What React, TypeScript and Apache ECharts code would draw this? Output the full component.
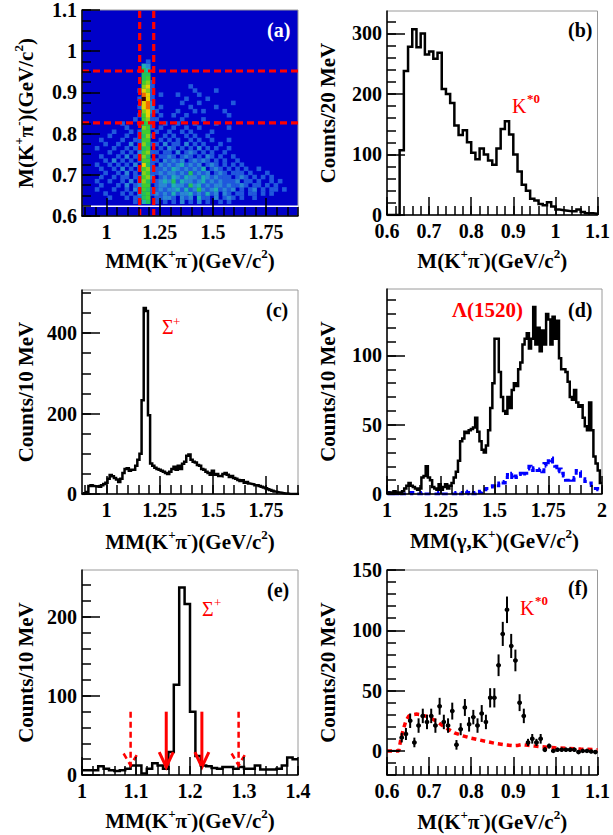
import React, { useEffect, useRef } from "react";
import * as echarts from "echarts";

const FONT = '"Liberation Serif","Times New Roman",Times,serif';

// ---------------- (a) 2D histogram M(K+pi-) vs MM(K+pi-) ----------------
const aCellX0 = 0.885;
const aCellW = 0.02;
const aCellY0 = 0.63;
const aCellH = 0.01;
// one string per row, bottom (0.63) to top; one digit per 0.02 column from 0.885
const aRows = [
  "0000000000 0010340101 0102010201 0010100000 0000000000 0",
  "0000001000 1011450112 2102120311 0201210100 1000000000 0",
  "0000010001 0102451212 1312231213 1202101101 1010100000 0",
  "0001000100 1021541121 2231312421 2312120101 2010110100 0",
  "0000100010 2012550122 1322142312 1221211210 1101010000 0",
  "0001001001 0202641123 2413221231 2121112011 0100101000 0",
  "0000100101 1011562012 1321322132 1211101210 1010100000 0",
  "0000010010 2010651121 2212141212 0121011101 0001000000 0",
  "0000100102 0102561112 1321212130 1210101010 0100000000 0",
  "0001001010 1020741021 2123121201 2101010100 0000000000 0",
  "0000010201 0101551102 1212012121 0101001000 0000000000 0",
  "0000100010 2011640011 2101210102 1010010000 0000000000 0",
  "0000001001 0102561101 1020121010 1001000000 0000000000 0",
  "0001000100 1011450010 2101010201 0100100000 0000000000 0",
  "0000010010 0201641102 0110201010 0010000000 0000000000 0",
  "0000100001 0011550010 1010010100 1000100000 0000000000 0",
  "0000001000 1001461001 0100101001 0000000000 0000000000 0",
  "0000000100 0101550100 1001010000 1000000000 0000000000 0",
  "0000000000 1000651010 0100100100 0000100000 0000000000 0",
  "0000000001 0001451001 0010001000 0100000000 0000000000 0",
  "0000000000 0010561100 0001000010 0000000000 0000000000 0",
  "0000000000 0001571010 0100100000 0000100000 0000000000 0",
  "0000000000 0000672100 0010001010 0001000000 0000000000 0",
  "0000000000 0001782010 0000010000 0100000000 0000000000 0",
  "0000000000 0000782000 0001000100 0000010000 0000000000 0",
  "0000000000 0001971000 0000100001 0000000000 0000000000 0",
  "0000000000 0000871010 0010000100 0000000000 0000000000 0",
  "0000000000 0001761000 0000001000 0100000000 0000000000 0",
  "0000000000 0000671000 0000010000 0000000000 0000000000 0",
  "0000000000 0000561000 0000000000 0000000000 0000000000 0",
  "0000000000 0000450000 0000000000 0000000000 0000000000 0",
  "0000000000 0000440000 0000000000 0000000000 0000000000 0",
  "0000000000 0000430000 0000000000 0000000000 0000000000 0",
  "0000000000 0000320000 0000000000 0000000000 0000000000 0",
  "0000000000 0000010000 0000000000 0000000000 0000000000 0",
];
const aColors = ["", "#2058dc", "#2a86d4", "#1eb0b4", "#22c25a", "#40cc30", "#88d018", "#e8d000", "#f06a00", "#3c0000"];
const aSigmaCut = [1.156, 1.222];
const aKstarCut = [0.826, 0.952];
const aEdgeLine = 0.6235;

// ---------------- (b) M(K+pi-) ----------------
const bStart = 0.6;
const bWidth = 0.01;
const bCounts = [
  0, 0, 0, 107, 238, 278, 307, 277, 300, 265,
  270, 258, 268, 208, 200, 185, 148, 132, 140, 120,
  103, 92, 110, 100, 90, 83, 110, 142, 155, 133,
  100, 72, 50, 40, 27, 24, 18, 16, 21, 14,
  9, 8, 7, 6, 6, 9, 5, 3, 3, 2,
];

// ---------------- (c) MM(K+pi-) ----------------
const cStart = 0.885;
const cWidth = 0.01;
const cCounts = [
  0, 2, 5, 20, 22, 20, 19, 20, 18, 22,
  25, 28, 38, 47, 44, 40, 36, 30, 38, 52,
  62, 64, 58, 60, 60, 70, 85, 100,
  233, 462, 455, 196, 76, 70,
  65, 62, 60, 58, 55, 52, 50, 55, 62, 68,
  60, 70, 62, 75, 80, 95, 98, 85, 80, 78,
  72, 70, 62, 60, 55, 52, 48, 58, 48, 50,
  45, 44, 50, 52, 48, 42, 45, 40, 38, 35,
  32, 34, 28, 30, 26, 25, 24, 22, 22, 20,
  18, 16, 14, 12, 10, 8, 6, 5, 4, 3,
  2, 1, 1, 0, 0, 0, 0, 0,
];

// ---------------- (d) MM(gamma,K+) ----------------
const dStart = 1.0;
const dWidth = 0.01;
const dCounts = [
  0, 1, 0, 2, 1, 1, 0, 2, 4, 6,
  8, 6, 5, 4, 3, 4, 12, 13, 20, 12,
  10, 5, 4, 3, 7, 3, 5, 7, 4, 6,
  8, 12, 16, 24, 38, 40, 45, 44, 46, 47,
  48, 55, 45, 38, 32, 30, 35, 46, 62, 80,
  112, 112, 88, 70, 60, 58, 70, 62, 75, 80,
  78, 90, 95, 108, 112, 116, 105, 112, 135, 108,
  120, 103, 118, 108, 130, 126, 108, 128, 112, 125,
  98, 90, 90, 88, 81, 70, 68, 75, 66, 63,
  64, 55, 49, 46, 66, 46, 27, 22, 17, 8,
];
const dSideband = [
  1, 0, 1, 0, 0, 1, 0, 0, 0, 0,
  0, 1, 0, 0, 0, 0, 1, 0, 0, 0,
  0, 0, 0, 0, 1, 0, 0, 0, 0, 0,
  0, 0, 1, 0, 0, 1, 2, 1, 0, 1,
  0, 1, 2, 1, 2, 3, 4, 4, 5, 6,
  5, 6, 8, 9, 8, 12, 14, 12, 15, 13,
  12, 14, 15, 13, 15, 18, 20, 17, 19, 17,
  17, 18, 16, 22, 20, 24, 26, 22, 20, 16,
  18, 15, 13, 10, 10, 11, 10, 12, 17, 16,
  11, 11, 9, 9, 8, 5, 4, 4, 3, 4,
];

// ---------------- (e) MM(K+pi-) after K* cut ----------------
const eStart = 1.0;
const eWidth = 0.01;
const eCounts = [
  6, 6, 6, 11, 8, 6, 5, 6, 8, 12,
  12, 2, 8, 15, 12, 8, 29, 114, 237, 216,
  80, 24, 12, 11, 9, 8, 10, 10, 8, 10,
  8, 8, 12, 7, 7, 7, 8, 12, 22, 20,
];
// [x, top count, tip count, dashed]
const eArrows = [
  [1.09, 80, 12, 1],
  [1.156, 80, 10, 0],
  [1.222, 80, 10, 0],
  [1.29, 80, 12, 1],
];

// ---------------- (f) M(K+pi-) sideband subtracted ----------------
const fStart = 0.6;
const fWidth = 0.01;
const fCounts = [
  0, 0, 0, 11, 14, 25, 7, 21, 29, 24,
  29, 21, 37, 24, 21, 33, 5, 18, 36, 22,
  28, 21, 31, 24, 44, 44, 71, 97, 117, 87,
  75, 40, 29, 7, 10, 7, 10, 1, 4, 0,
  1, 1, 1, 1, 1, -1, 0, 0, -0.5, -1,
];
const fErrors = [
  0, 0, 0, 4, 5, 6, 4, 6, 6, 6,
  6, 6, 7, 6, 6, 7, 4, 5, 7, 6,
  6, 6, 7, 6, 8, 8, 9, 10, 11, 10,
  9, 7, 6, 3, 4, 3, 4, 2, 2, 1,
  1, 1, 1, 1, 1, 1, 1, 1, 1, 1,
];
const fBkgX = [0.6, 0.628, 0.632, 0.638, 0.645, 0.652, 0.66, 0.67, 0.68, 0.69, 0.7, 0.71, 0.72, 0.73, 0.74, 0.75, 0.76, 0.78, 0.8, 0.82, 0.84, 0.86, 0.88, 0.9, 0.91, 0.92, 0.93, 0.95, 0.98, 1.0, 1.03, 1.06, 1.1];
const fBkgY = [0, 0, 8, 17, 25, 29, 30, 30.5, 30, 29, 28, 26, 24, 21.5, 19, 17, 15, 12.5, 10.5, 9, 7.5, 6, 5, 4.3, 4.5, 5.2, 4.8, 4, 3, 2.5, 2, 1.5, 1];

// ---------------- helpers ----------------
const RICH = {
  n: { fontFamily: FONT, fontWeight: "bold", fontSize: 21, color: "#000", lineHeight: 24, verticalAlign: "bottom" },
  s: { fontFamily: FONT, fontWeight: "bold", fontSize: 13, color: "#000", lineHeight: 12, verticalAlign: "top" },
};
const T_MM = "{n|MM(K}{s|+}{n|π}{s|-}{n|)(GeV/c}{s|2}{n|)}";
const T_M = "{n|M(K}{s|+}{n|π}{s|-}{n|)(GeV/c}{s|2}{n|)}";
const T_MMG = "{n|MM(γ,K}{s|+}{n|)(GeV/c}{s|2}{n|)}";
const T_C20 = "{n|Counts/20 MeV}";
const T_C10 = "{n|Counts/10 MeV}";

function tickValues(min: number, max: number, step: number) {
  const out: number[] = [];
  const k0 = Math.ceil(min / step - 1e-6);
  const k1 = Math.floor(max / step + 1e-6);
  for (let k = k0; k <= k1; k++) out.push(Math.round(k * step * 1e6) / 1e6);
  return out;
}
const fmt = (v: number) => String(parseFloat(Number(v).toFixed(4)));

function axisPair(dim: "x" | "y", gi: number, min: number, max: number, step: number, minorStep: number, name: string, gap: number) {
  const major = tickValues(min, max, step);
  const minor = tickValues(min, max, minorStep);
  const common: any = {
    type: "value",
    gridIndex: gi,
    min,
    max,
    z: 10,
    position: dim === "x" ? "bottom" : "left",
    splitLine: { show: false },
  };
  return [
    {
      ...common,
      axisLine: { show: true, onZero: false, lineStyle: { color: "#000", width: 1.5 } },
      axisTick: { show: true, inside: true, length: 18, lineStyle: { color: "#000", width: 1.5 }, customValues: major },
      axisLabel: {
        show: true,
        customValues: major,
        formatter: fmt,
        margin: dim === "x" ? 8 : 5,
        fontFamily: FONT,
        fontWeight: "bold",
        fontSize: 20,
        lineHeight: 16,
        color: "#000",
      },
      name,
      nameLocation: "middle",
      nameGap: gap,
      nameRotate: dim === "y" ? 90 : 0,
      nameTextStyle: { rich: RICH, fontFamily: FONT, fontWeight: "bold", fontSize: 21, color: "#000" },
    },
    {
      ...common,
      axisLine: { show: false, onZero: false },
      axisTick: { show: true, inside: true, length: 9, lineStyle: { color: "#000", width: 1.5 }, customValues: minor },
      axisLabel: { show: false },
    },
  ];
}

function stepData(start: number, width: number, vals: number[]) {
  const d = vals.map((v, i) => [Math.round((start + i * width) * 1e6) / 1e6, v]);
  d.push([Math.round((start + vals.length * width) * 1e6) / 1e6, vals[vals.length - 1]]);
  return d;
}

function histSeries(gi: number, data: number[][], color: string, width: number, dash?: number[]) {
  return {
    type: "line",
    xAxisIndex: gi * 2,
    yAxisIndex: gi * 2,
    step: "end",
    symbol: "none",
    data,
    clip: true,
    z: 3,
    lineStyle: { color, width, type: dash ? dash : "solid", cap: "butt", join: "miter" },
  };
}

function buildOption() {
  const grids = [
    { left: 82, top: 10, width: 216, height: 206, backgroundColor: "#0000c8" },
    { left: 387, top: 11, width: 216, height: 204 },
    { left: 82, top: 290, width: 216, height: 204 },
    { left: 387, top: 289, width: 215, height: 205 },
    { left: 82, top: 570, width: 216, height: 205 },
    { left: 387, top: 570, width: 215, height: 205 },
  ].map((g) => ({ show: true, borderColor: "#9a9a9a", borderWidth: 1, backgroundColor: "transparent", containLabel: false, ...g }));

  const xAxes = [
    ...axisPair("x", 0, 0.885, 1.9, 0.25, 0.05, T_MM, 31),
    ...axisPair("x", 1, 0.6, 1.1, 0.1, 0.02, T_M, 32),
    ...axisPair("x", 2, 0.885, 1.9, 0.25, 0.05, T_MM, 34),
    ...axisPair("x", 3, 1.0, 2.0, 0.25, 0.05, T_MMG, 33),
    ...axisPair("x", 4, 1.0, 1.4, 0.1, 0.02, T_MM, 32),
    ...axisPair("x", 5, 0.6, 1.1, 0.1, 0.02, T_M, 33),
  ];
  const yAxes = [
    ...axisPair("y", 0, 0.6, 1.1, 0.1, 0.025, T_M, 46),
    ...axisPair("y", 1, 0, 337, 100, 20, T_C20, 49),
    ...axisPair("y", 2, 0, 507, 200, 50, T_C10, 46),
    ...axisPair("y", 3, 0, 148, 50, 10, T_C10, 49),
    ...axisPair("y", 4, 0, 259, 100, 20, T_C10, 46),
    ...axisPair("y", 5, -20, 150, 50, 10, T_C20, 49),
  ];

  // heat cells
  const heat: number[][] = [];
  aRows.forEach((row, j) => {
    const r = row.replace(/\s/g, "");
    for (let i = 0; i < r.length; i++) {
      const v = +r[i];
      if (v > 0) heat.push([aCellX0 + i * aCellW, aCellY0 + j * aCellH, v]);
    }
  });

  const redDash = { color: "#ff0000", width: 3.2, type: [7, 4] };
  const series: any[] = [
    {
      type: "custom",
      xAxisIndex: 0,
      yAxisIndex: 0,
      clip: true,
      z: 2,
      data: heat,
      encode: { x: 0, y: 1 },
      renderItem: (params: any, api: any) => {
        const x = api.value(0);
        const y = api.value(1);
        const v = api.value(2);
        const p0 = api.coord([x, y + aCellH]);
        const p1 = api.coord([x + aCellW, y]);
        return {
          type: "rect",
          shape: { x: p0[0], y: p0[1], width: p1[0] - p0[0] + 0.4, height: p1[1] - p0[1] + 0.4 },
          style: { fill: aColors[v] },
        };
      },
    },
    {
      type: "line", xAxisIndex: 0, yAxisIndex: 0, symbol: "none", z: 4, silent: true,
      data: [[0.885, aEdgeLine], [1.9, aEdgeLine]],
      lineStyle: { color: "#ffffff", width: 1.5 },
    },
    ...aSigmaCut.map((c) => ({
      type: "line", xAxisIndex: 0, yAxisIndex: 0, symbol: "none", z: 5,
      data: [[c, 0.6], [c, 1.1]], lineStyle: redDash,
    })),
    ...aKstarCut.map((c) => ({
      type: "line", xAxisIndex: 0, yAxisIndex: 0, symbol: "none", z: 5,
      data: [[0.885, c], [1.9, c]], lineStyle: redDash,
    })),
    histSeries(1, stepData(bStart, bWidth, bCounts), "#000", 2.5),
    histSeries(2, stepData(cStart, cWidth, cCounts), "#000", 2.5),
    histSeries(3, stepData(dStart, dWidth, dSideband), "#0000ff", 3, [6, 4]),
    histSeries(3, stepData(dStart, dWidth, dCounts), "#000", 2.5),
    histSeries(4, stepData(eStart, eWidth, eCounts), "#000", 2.5),
    {
      type: "custom",
      xAxisIndex: 8,
      yAxisIndex: 8,
      z: 6,
      clip: true,
      data: eArrows,
      encode: { x: 0, y: 1 },
      renderItem: (params: any, api: any) => {
        const x = api.value(0);
        const top = api.coord([x, api.value(1)]);
        const tip = api.coord([x, api.value(2)]);
        const dashed = api.value(3) > 0;
        const style: any = { stroke: "#ff0000", lineWidth: dashed ? 2.5 : 3, fill: null };
        if (dashed) style.lineDash = [6, 4];
        const hw = 7;
        const hh = dashed ? 12 : 15;
        return {
          type: "group",
          children: [
            { type: "line", shape: { x1: top[0], y1: top[1], x2: tip[0], y2: tip[1] }, style },
            {
              type: "polyline",
              shape: { points: [[tip[0] - hw, tip[1] - hh], [tip[0], tip[1]], [tip[0] + hw, tip[1] - hh]] },
              style,
            },
          ],
        };
      },
    },
    {
      type: "line", xAxisIndex: 10, yAxisIndex: 10, symbol: "none", z: 3, clip: true,
      data: fBkgX.map((x, i) => [x, fBkgY[i]]),
      lineStyle: { color: "#ff0000", width: 3.5, type: [5, 4] },
    },
    {
      type: "custom",
      xAxisIndex: 10,
      yAxisIndex: 10,
      z: 4,
      clip: true,
      data: fCounts.map((v, i) => [fStart + i * fWidth, v, fErrors[i]]),
      encode: { x: 0, y: 1 },
      renderItem: (params: any, api: any) => {
        const x = api.value(0);
        const y = api.value(1);
        const e = api.value(2);
        const l = api.coord([x, y]);
        const r = api.coord([x + fWidth, y]);
        const cx = (l[0] + r[0]) / 2;
        const st = { stroke: "#000", lineWidth: 2, fill: null };
        const children: any[] = [{ type: "line", shape: { x1: l[0], y1: l[1], x2: r[0], y2: r[1] }, style: st }];
        if (e > 0) {
          const t = api.coord([x, y + e]);
          const b = api.coord([x, y - e]);
          children.push({ type: "line", shape: { x1: cx, y1: t[1], x2: cx, y2: b[1] }, style: st });
          children.push({ type: "circle", shape: { cx, cy: l[1], r: 2.3 }, style: { fill: "#000" } });
        }
        return { type: "group", children };
      },
    },
  ];

  const txt = (text: string, x: number, y: number, color: string, size: number, weight: string) => ({
    type: "text",
    x,
    y,
    z: 100,
    style: { text, fill: color, fontFamily: FONT, fontSize: size, fontWeight: weight, align: "left", verticalAlign: "middle" },
  });

  const graphic = [
    txt("(a)", 267, 29.5, "#ffffff", 20, "bold"),
    txt("(b)", 568, 29.5, "#000", 20, "bold"),
    txt("(c)", 266, 309.5, "#000", 20, "bold"),
    txt("(d)", 568, 309.5, "#000", 20, "bold"),
    txt("(e)", 267, 589.5, "#000", 20, "bold"),
    txt("(f)", 568, 587.5, "#000", 20, "bold"),
    txt("K", 512, 106, "#ff0000", 20, "normal"),
    txt("*0", 527, 98, "#ff0000", 13, "bold"),
    txt("Σ", 162, 327, "#ff0000", 20, "normal"),
    txt("+", 173, 321, "#ff0000", 13, "normal"),
    txt("Λ(1520)", 452, 310, "#ff0000", 21, "bold"),
    txt("Σ", 202, 609, "#ff0000", 20, "normal"),
    txt("+", 214, 602.5, "#ff0000", 13, "normal"),
    txt("K", 520, 607.5, "#ff0000", 20, "normal"),
    txt("*0", 535, 600, "#ff0000", 13, "bold"),
  ];

  return {
    animation: false,
    backgroundColor: "#ffffff",
    grid: grids,
    xAxis: xAxes,
    yAxis: yAxes,
    series,
    graphic,
  };
}

export default function App() {
  const ref = useRef<HTMLDivElement>(null);
  useEffect(() => {
    document.body.style.margin = "0";
    if (!ref.current) return;
    const chart = echarts.init(ref.current, null, { renderer: "svg" });
    chart.setOption(buildOption() as any);
    return () => chart.dispose();
  }, []);
  return <div ref={ref} style={{ position: "absolute", left: 0, top: 0, width: 613, height: 835 }} />;
}
